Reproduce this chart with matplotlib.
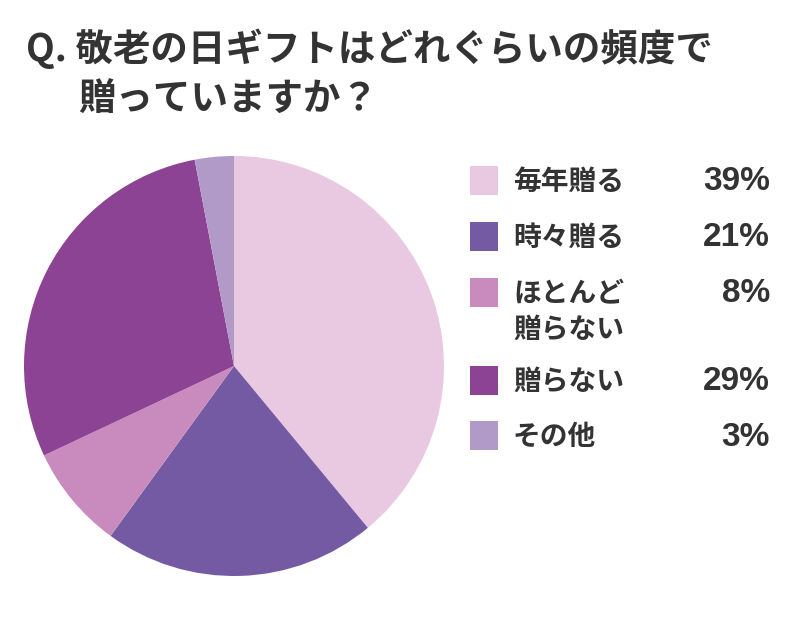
import matplotlib
matplotlib.use("Agg")
import matplotlib.pyplot as plt
from matplotlib.patches import Rectangle

plt.rcParams['font.family'] = ['Noto Sans CJK JP', 'DejaVu Sans']

labels = ["毎年贈る", "時々贈る", "ほとんど\n贈らない", "贈らない", "その他"]
values = [39, 21, 8, 29, 3]
colors = ["#e8c9e1", "#7459a3", "#c98bbd", "#8c4394", "#b29ac8"]
title_lines = ["Q. 敬老の日ギフトはどれぐらいの頻度で", "贈っていますか？"]

W, H = 800, 620
fig = plt.figure(figsize=(W / 100, H / 100), dpi=100)
fig.patch.set_facecolor("white")

# pie: centre (234, 366) px, radius 210 px
cx, cy, r = 234, 366, 210
ax = fig.add_axes([(cx - r) / W, (H - cy - r) / H, 2 * r / W, 2 * r / H])
ax.pie(values, colors=colors, startangle=90, counterclock=False, radius=1,
       wedgeprops=dict(linewidth=0))
ax.set_xlim(-1, 1)
ax.set_ylim(-1, 1)
ax.set_aspect("equal")
ax.axis("off")

txt = "#333333"
fig.text(26 / W, 1 - 49 / H, title_lines[0], fontsize=27, fontweight="bold",
         color=txt, va="center", ha="left")
fig.text(78 / W, 1 - 99 / H, title_lines[1], fontsize=27, fontweight="bold",
         color=txt, va="center", ha="left")

# legend
rows_y = [181, 237, 293, 381, 436]
for lab, v, c, y in zip(labels, values, colors, rows_y):
    fig.patches.append(Rectangle((470 / W, 1 - (y + 14) / H), 28 / W, 29 / H,
                                 transform=fig.transFigure, facecolor=c,
                                 edgecolor="none"))
    fig.text(513 / W, 1 - (y - 13) / H, lab, fontsize=20, fontweight="bold",
             color=txt, va="top", ha="left", linespacing=1.35)
    fig.text(770 / W, 1 - (y + 1) / H, f"{v}%", fontsize=24, fontweight="bold",
             color=txt, va="center", ha="right", family=["Liberation Sans"])

fig.savefig("out.png", dpi=100)
